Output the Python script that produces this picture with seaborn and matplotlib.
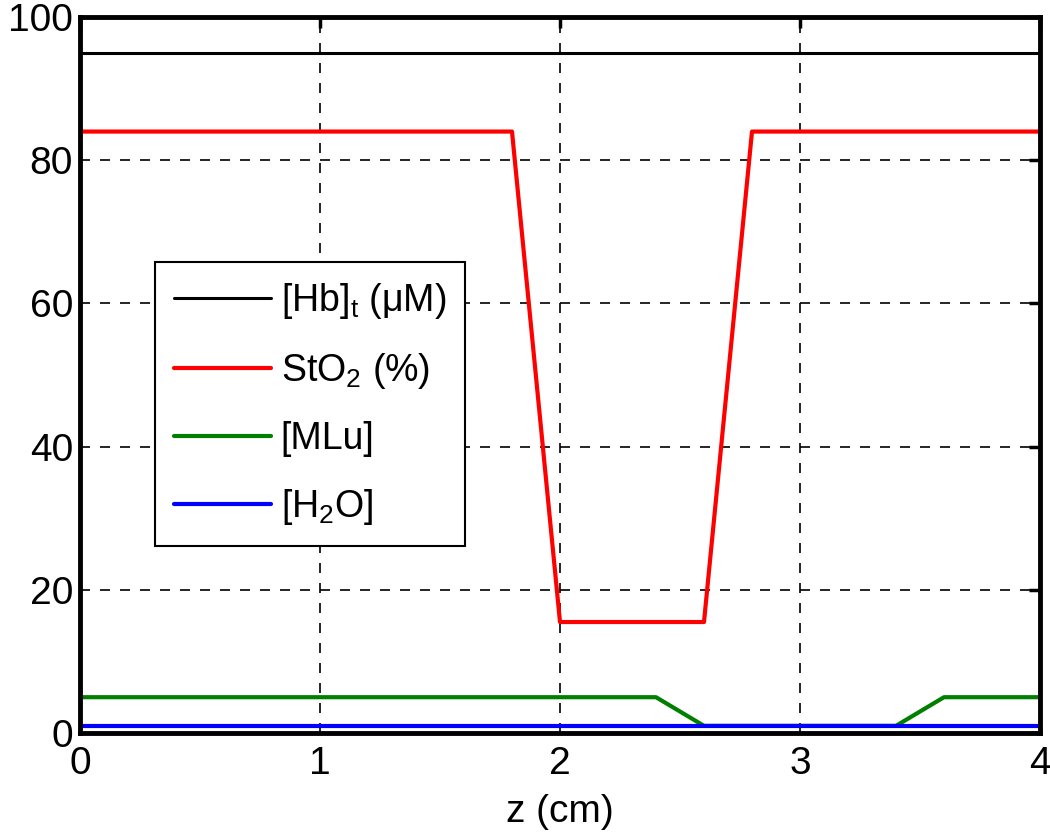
import matplotlib
matplotlib.use("Agg")
import matplotlib.pyplot as plt
import seaborn as sns
import pandas as pd

sns.set_theme(style="white")
plt.rcParams['font.family'] = ['Liberation Sans', 'DejaVu Sans']
plt.rcParams['mathtext.fontset'] = 'custom'
plt.rcParams['mathtext.rm'] = 'Liberation Sans'
plt.rcParams['mathtext.it'] = 'Liberation Sans:italic'
plt.rcParams['text.color'] = 'black'
plt.rcParams['axes.labelcolor'] = 'black'

# Data
hb_z = [0, 4]
hb_v = [95, 95]
sto2_z = [0, 1.8, 2.0, 2.6, 2.8, 4]
sto2_v = [84, 84, 15.5, 15.5, 84, 84]
mlu_z = [0, 2.4, 2.6, 3.4, 3.6, 4]
mlu_v = [5, 5, 1, 1, 5, 5]
h2o_z = [0, 4]
h2o_v = [1, 1]

labels = ["[Hb]$_\\mathrm{t}$ (μM)", "StO$_\\mathrm{2}$ (%)", "[MLu]", "[H$_\\mathrm{2}$O]"]
colors = ["black", "#ff0000", "#007f00", "#0000ff"]
widths = [2.2, 3.0, 3.0, 3.0]
xticks = [0, 1, 2, 3, 4]
yticks = [0, 20, 40, 60, 80, 100]

fig = plt.figure(figsize=(10.5, 8.35), dpi=100)
ax = fig.add_axes([80/1050, 1-733/835, 960/1050, 716/835])

series = [(hb_z, hb_v), (sto2_z, sto2_v), (mlu_z, mlu_v), (h2o_z, h2o_v)]
for (z, v), lab, c, w in zip(series, labels, colors, widths):
    df = pd.DataFrame({"z": z, "v": v})
    sns.lineplot(data=df, x="z", y="v", ax=ax, color=c, linewidth=w, label=lab,
                 estimator=None, sort=False)

ax.set_xlim(0, 4)
ax.set_ylim(0, 100)
ax.set_xticks(xticks)
ax.set_yticks(yticks)
ax.set_xlabel("z (cm)", fontsize=28, labelpad=9, color='black')
ax.set_ylabel("")
ax.tick_params(axis='both', which='both', direction='in', length=8, width=2.5,
               top=True, right=True, labelsize=28, colors='black', pad=5)
ax.tick_params(axis='x', pad=9)
ax.grid(True, color='black', linestyle=(0, (6, 6)), linewidth=1.2)
for s in ax.spines.values():
    s.set_color('black')
    s.set_linewidth(3.5)

leg = ax.legend(loc='upper left', bbox_to_anchor=(75/960, (733-262)/716),
                fontsize=27, frameon=True, fancybox=False, framealpha=1,
                edgecolor='black', handlelength=2.6, handletextpad=0.25,
                labelspacing=0.8, borderpad=0.5, borderaxespad=0)
leg.get_frame().set_linewidth(1.5)

fig.savefig("out.png", dpi=100)
